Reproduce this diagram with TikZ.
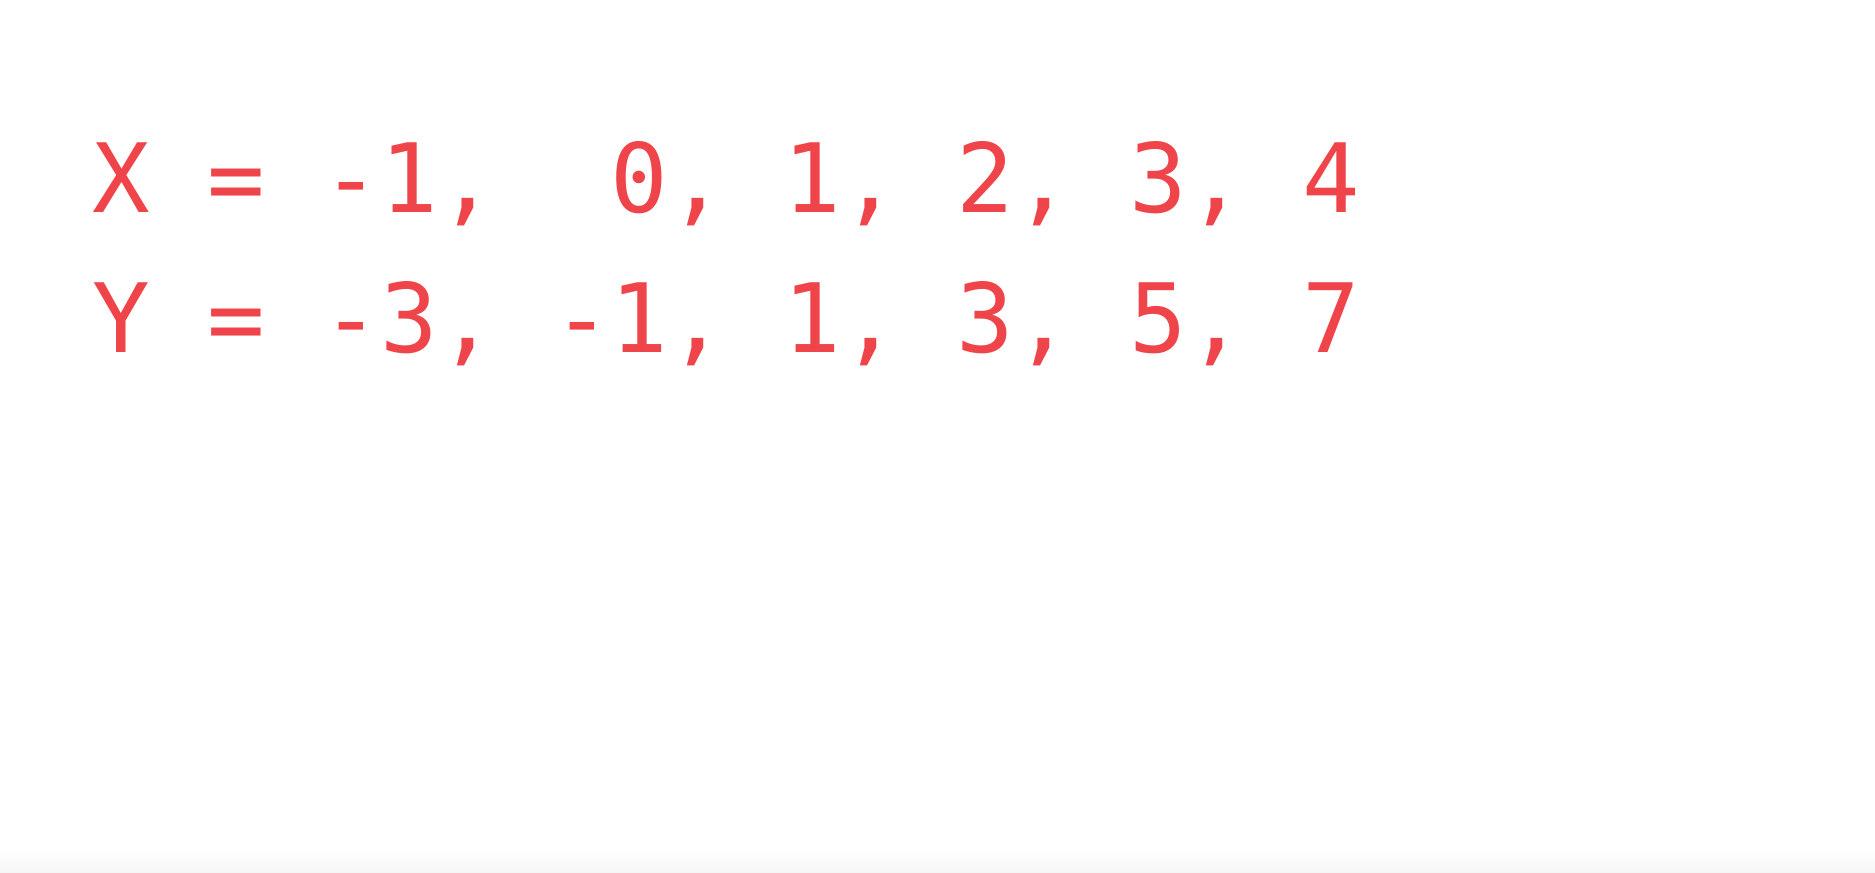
\documentclass[tikz,border=0pt]{standalone}
\usepackage{fontspec}
\setmonofont{DejaVu Sans Mono}
\definecolor{txtred}{RGB}{239,68,74}
\begin{document}
\begin{tikzpicture}[x=1pt,y=1pt,
  row/.style={anchor=base west,inner sep=0pt,text=txtred,
    font=\ttfamily\fontsize{95.7}{115}\selectfont}]
\useasboundingbox (0,0) rectangle (1875,873);
\fill[white] (0,0) rectangle (1875,873);
\shade[bottom color=black!4,top color=white] (0,0) rectangle (1875,22);
\node[row] (xrow) at (92.2,660) {X\ =\ -1,\ \ 0,\ 1,\ 2,\ 3,\ 4};
\node[row] (yrow) at (92.2,520) {Y\ =\ -3,\ -1,\ 1,\ 3,\ 5,\ 7};
\end{tikzpicture}
\end{document}
